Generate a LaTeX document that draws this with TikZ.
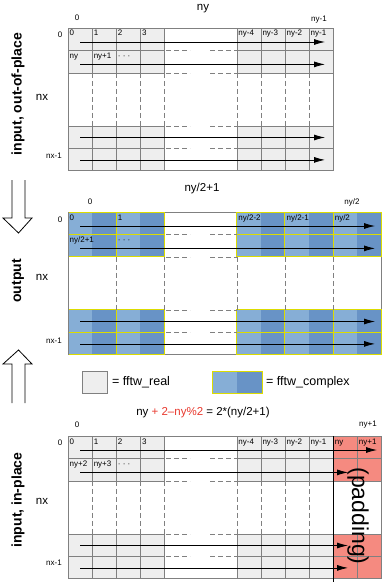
\documentclass[tikz,border=0pt]{standalone}
\usepackage{fontspec}
\setmainfont{Liberation Sans}
\usepackage{tikz}
\usetikzlibrary{arrows.meta}
\definecolor{realgray}{HTML}{EEEEEE}
\definecolor{gridgray}{HTML}{808080}
\definecolor{cplxlight}{HTML}{86AED6}
\definecolor{cplxdark}{HTML}{6893C6}
\definecolor{cplxline}{HTML}{DCDC00}
\definecolor{padred}{HTML}{F58A80}
\definecolor{formred}{HTML}{E8392E}

\begin{document}
\begin{tikzpicture}[x=1pt,y=-1pt,
    realcell/.style={draw=gridgray,fill=realgray},
    padcell/.style={draw=gridgray,fill=padred},
    cplxframe/.style={draw=cplxline,line width=1pt},
    gridframe/.style={draw=gridgray},
    gap/.style={gridgray,dash pattern=on 5pt off 3pt},
    rowarrow/.style={-{Latex[length=11pt,width=6pt]},line width=0.8pt},
    cellnum/.style={anchor=base west,inner sep=0pt,font=\fontsize{8}{9}\selectfont},
    index/.style={inner sep=0pt,font=\fontsize{8}{9}\selectfont},
    dim/.style={inner sep=0pt,font=\fontsize{11.5}{12}\selectfont},
    legend/.style={anchor=west,inner sep=0pt,font=\fontsize{12.5}{13}\selectfont},
    side/.style={rotate=90,inner sep=0pt,font=\fontsize{14}{15}\selectfont\bfseries},
    hollow/.style={draw,line width=0.8pt},
  ]
  \useasboundingbox (0,0) rectangle (389,583);

  % input, out-of-place
  \foreach \c in {0,1,2,3,7,8,9,10}
    \foreach \dy in {0,22.4,97.8,120.2}
      \draw[realcell] ({68+\c*24.1},{28+\dy}) rectangle +(24.1,22.4);
  \draw[gridframe] (68,28) rectangle (333.1,170.6);
  \foreach \c in {1,2,3,4,7,8,9,10}
    \draw[gap] ({68+\c*24.1},72.8) -- ({68+\c*24.1},125.8);
  \foreach \dy in {22.4,44.8,97.8,120.2} {
    \draw[gap] (166,{28+\dy}) -- (190,{28+\dy});
    \draw[gap] (210,{28+\dy}) -- (236.7,{28+\dy});
  }
  \foreach \dy in {14,36.4,109.5,131.9}
    \draw[rowarrow] (80,{28+\dy}) -- (325,{28+\dy});

  \node[dim] (nyA) at (203,9) {ny};
  \node[index] (colA0) at (77,17.5) {0};
  \node[index] (colA1) at (319,20) {ny-1};
  \node[index] (rowA0) at (60,35) {0};
  \node[dim] (nxA) at (42,97) {nx};
  \node[index] (rowA1) at (54,156) {nx-1};
  \foreach \c/\t in {0/0,1/1,2/2,3/3,7/ny-4,8/ny-3,9/ny-2,10/ny-1}
    \node[cellnum] (a\c) at ({69.5+\c*24.1},36) {\t};
  \foreach \c/\t in {0/ny,1/ny+1,2/· · ·}
    \node[cellnum] (b\c) at ({69.5+\c*24.1},58.4) {\t};

  % output
  \draw[gridframe] (68,212) rectangle (381.3,354.6);
  \foreach \c in {0,2,7,9,11}
    \foreach \dy in {0,22.4,97.8,120.2} {
      \fill[cplxlight] ({68+\c*24.1},{212+\dy}) rectangle +(24.1,22.4);
      \fill[cplxdark] ({92.1+\c*24.1},{212+\dy}) rectangle +(24.1,22.4);
      \draw[cplxframe] ({68+\c*24.1},{212+\dy}) rectangle +(48.2,22.4);
    }
  \draw[gridframe] (68,212) -- (68,354.6);
  \foreach \c in {2,4,7,9,11}
    \draw[gap] ({68+\c*24.1},256.8) -- ({68+\c*24.1},309.8);
  \foreach \dy in {22.4,44.8,97.8,120.2} {
    \draw[gap] (166,{212+\dy}) -- (190,{212+\dy});
    \draw[gap] (210,{212+\dy}) -- (236.7,{212+\dy});
  }
  \foreach \dy in {14,36.4,109.5,131.9}
    \draw[rowarrow] (80,{212+\dy}) -- (375,{212+\dy});

  \node[dim] (nyB) at (202,189) {ny/2+1};
  \node[index] (colB0) at (90,202) {0};
  \node[index] (colB1) at (352,202) {ny/2};
  \node[index] (rowB0) at (60,220) {0};
  \node[dim] (nxB) at (42,277) {nx};
  \node[index] (rowB1) at (54,340.5) {nx-1};
  \foreach \c/\t in {0/0,2/1,7/{ny/2-2},9/{ny/2-1},11/{ny/2}}
    \node[cellnum] (c\c) at ({69.5+\c*24.1},220) {\t};
  \foreach \c/\t in {0/{ny/2+1},2/· · ·}
    \node[cellnum] (d\c) at ({69.5+\c*24.1},242.4) {\t};

  % legend
  \draw[realcell] (82,371) rectangle (107,393);
  \node[legend] (legreal) at (112,382) {= fftw\_real};
  \fill[cplxlight] (212,371) rectangle (237,393);
  \fill[cplxdark] (237,371) rectangle (262,393);
  \draw[cplxframe] (212,371) rectangle (262,393);
  \node[legend] (legcplx) at (266,382) {= fftw\_complex};
  \node[dim] (formula) at (203,413)
    {ny \textcolor{formred}{+ 2--ny\%2} = 2*(ny/2+1)};

  % input, in-place
  \foreach \c in {0,1,2,3,7,8,9,10}
    \foreach \dy in {0,22.4,97.8,120.2}
      \draw[realcell] ({68+\c*24.1},{436+\dy}) rectangle +(24.1,22.4);
  \foreach \c in {11,12}
    \foreach \dy in {0,22.4,97.8,120.2}
      \draw[padcell] ({68+\c*24.1},{436+\dy}) rectangle +(24.1,22.4);
  \draw[gridframe] (68,436) rectangle (381.3,578.6);
  \draw (333.1,436) -- (333.1,582);
  \foreach \c in {1,2,3,4,7,8,9,10}
    \draw[gap] ({68+\c*24.1},480.8) -- ({68+\c*24.1},533.8);
  \foreach \dy in {22.4,44.8,97.8,120.2} {
    \draw[gap] (166,{436+\dy}) -- (190,{436+\dy});
    \draw[gap] (210,{436+\dy}) -- (236.7,{436+\dy});
  }
  \draw[rowarrow] (80,450) -- (377,450);
  \foreach \dy in {36.4,109.5,131.9}
    \draw[rowarrow] (80,{436+\dy}) -- (348,{436+\dy});

  \node[index] (colC0) at (77,425) {0};
  \node[index] (colC1) at (368,425) {ny+1};
  \node[index] (rowC0) at (60,443) {0};
  \node[dim] (nxC) at (42,501) {nx};
  \node[index] (rowC1) at (54,563) {nx-1};
  \foreach \c/\t in {0/0,1/1,2/2,3/3,7/ny-4,8/ny-3,9/ny-2,10/ny-1,11/ny,12/ny+1}
    \node[cellnum] (e\c) at ({69.5+\c*24.1},444) {\t};
  \foreach \c/\t in {0/ny+2,1/ny+3,2/· · ·}
    \node[cellnum] (f\c) at ({69.5+\c*24.1},466.4) {\t};
  \node[rotate=-90,inner sep=0pt,font=\fontsize{23}{24}\selectfont]
    (padding) at (358,516) {(padding)};

  % side labels and big arrows
  \node[side] (inout) at (18,94) {input, out-of-place};
  \node[side] (outp) at (18,281) {output};
  \node[side] (inin) at (18,500) {input, in-place};
  \draw[hollow] (12,180) -- (12,218) -- (3,218) -- (18.5,233) -- (32,218)
    -- (25,218) -- (25,180);
  \draw[hollow] (12,403) -- (12,364) -- (3,364) -- (18.5,350) -- (32,364)
    -- (25,364) -- (25,403);
\end{tikzpicture}
\end{document}
